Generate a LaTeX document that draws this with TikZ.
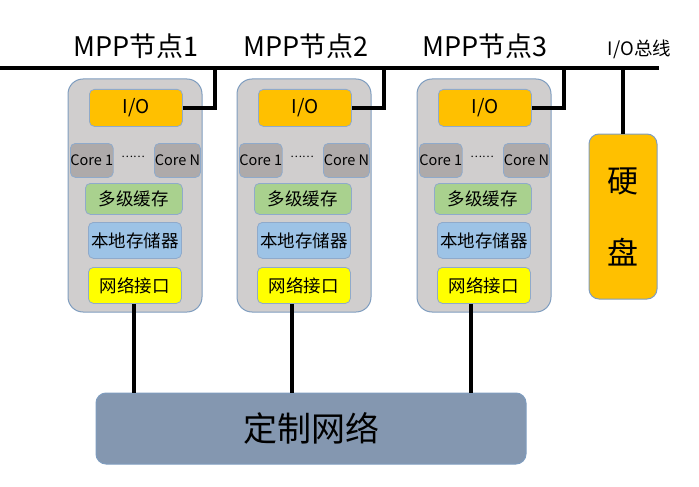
\documentclass[tikz,border=0pt]{standalone}
\usepackage{fontspec}
\setmainfont{Noto Sans CJK SC}
\definecolor{contfill}{HTML}{D0CECE}
\definecolor{contdraw}{HTML}{7F9DBF}
\definecolor{iofill}{HTML}{FFC000}
\definecolor{corefill}{HTML}{AEAAAA}
\definecolor{cachefill}{HTML}{A9D18E}
\definecolor{memfill}{HTML}{9DC3E6}
\definecolor{nicfill}{HTML}{FFFF00}
\definecolor{netfill}{HTML}{8497B0}
\definecolor{boxdraw}{HTML}{8FAACB}
\tikzset{
  container/.style={draw=contdraw, fill=contfill, line width=1pt, rounded corners=15pt},
  inbox/.style={draw=boxdraw, line width=0.8pt, rounded corners=5pt, anchor=north west, inner sep=0pt, font=\fontsize{17.5}{20}\selectfont},
  corebox/.style={inbox, fill=corefill, font=\fontsize{14.5}{16}\selectfont},
  wire/.style={line width=4pt, black},
  title/.style={font=\fontsize{27}{30}\selectfont, inner sep=0pt},
}
\begin{document}
\begin{tikzpicture}[x=1pt,y=-1pt]
\useasboundingbox (0,0) rectangle (699,487);
% network
\node[draw=contdraw, fill=netfill, line width=1pt, rounded corners=10pt, minimum width=430pt, minimum height=71pt, inner sep=0pt, font=\fontsize{34}{40}\selectfont] (net) at (311,428.5) {定制网络};
% bus
\coordinate (busL) at (0,68);
\coordinate (busR) at (659,68);
\draw[wire] (busL) -- (busR);
\node[title] (t1) at (136,46) {MPP节点1};
\node[title] (t2) at (306,46) {MPP节点2};
\node[title] (t3) at (485,46) {MPP节点3};
\node[font=\fontsize{18.5}{20}\selectfont, inner sep=0pt] (tbus) at (639.5,49) {I/O总线};
\foreach \i/\ox/\lx in {1/68/134, 2/237/292, 3/417/471}{
  \begin{scope}[shift={(\ox,0)}]
    \draw[container] (0,79) rectangle (134,312);
    \node[inbox, fill=iofill, minimum width=93pt, minimum height=37pt, font=\fontsize{19}{20}\selectfont] (io\i) at (21,89) {I/O};
    \node[corebox, minimum width=42pt, minimum height=34pt] (ca\i) at (2,143) {Core 1};
    \node[corebox, minimum width=46pt, minimum height=34pt] (cb\i) at (86,143) {Core N};
    \node[inner sep=0pt, font=\fontsize{11}{12}\selectfont] (dt\i) at (65,157) {……};
    \node[inbox, fill=cachefill, minimum width=97pt, minimum height=31pt] (ch\i) at (17,183) {多级缓存};
    \node[inbox, fill=memfill, minimum width=93pt, minimum height=36pt] (mm\i) at (20,222) {本地存储器};
    \node[inbox, fill=nicfill, minimum width=93pt, minimum height=36pt] (ni\i) at (20,267) {网络接口};
    \coordinate (bc\i) at (147,68);
  \end{scope}
  \draw[wire] (io\i.east) -| (bc\i);
  \draw[wire] (ni\i.south -| \lx,0) -- (net.north -| \lx,0);
}
% disk
\node[draw=contdraw, fill=iofill, line width=1pt, rounded corners=10pt, minimum width=68pt, minimum height=165pt, inner sep=0pt, align=center, font=\fontsize{31}{72}\selectfont] (disk) at (623,216.5) {硬\\盘};
\coordinate (bd) at (623,68);
\draw[wire] (bd) -- (disk.north);
\end{tikzpicture}
\end{document}
